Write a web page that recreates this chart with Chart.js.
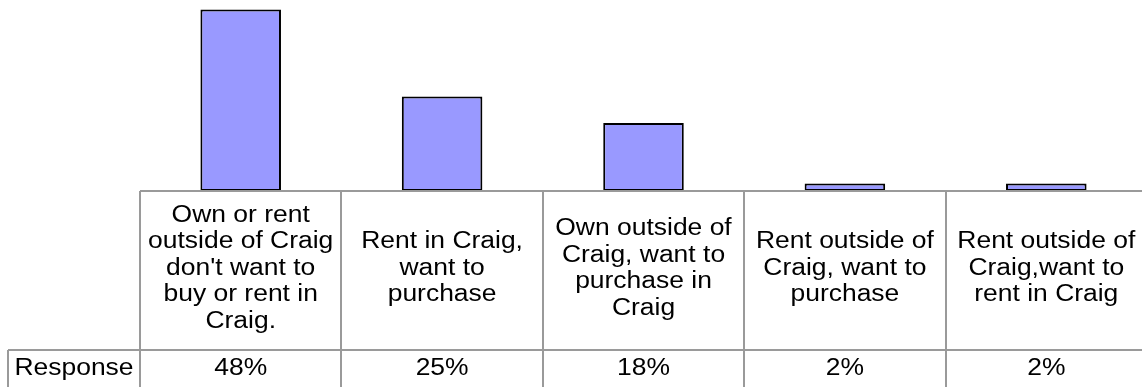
<!DOCTYPE html>
<html>
<head>
<meta charset="utf-8">
<script src="https://cdn.jsdelivr.net/npm/chart.js@4/dist/chart.umd.min.js"></script>
<style>
  html, body { margin: 0; padding: 0; background: #fff; overflow: hidden; }
  #wrap { position: relative; width: 1147px; height: 387px; }
</style>
</head>
<body>
<div id="wrap"><canvas id="responseChart"></canvas></div>
<script>
// categories (one array of lines per column) and response share in percent
const categories = [
  ["Own or rent", "outside of Craig", "don't want to", "buy or rent in", "Craig."],
  ["Rent in Craig,", "want to", "purchase"],
  ["Own outside of", "Craig, want to", "purchase in", "Craig"],
  ["Rent outside of", "Craig, want to", "purchase"],
  ["Rent outside of", "Craig,want to", "rent in Craig"]
];
const responses = [48, 25, 18, 2, 2];
const seriesName = "Response";

const gridColor = "#9a9a9a";
const textFont = "23px 'Liberation Sans', Arial, sans-serif";
const stretch = 1.15;   // the table text is drawn a little wide
const lineGap = 26.6;

function wideText(ctx, str, x, y) {
  ctx.save();
  ctx.translate(x, y);
  ctx.scale(stretch, 1);
  ctx.fillText(str, 0, 0);
  ctx.restore();
}

// data table under the bars: category row + value row
const dataTable = {
  id: "dataTable",
  afterDatasetsDraw(chart) {
    const ctx = chart.ctx;
    const area = chart.chartArea;
    const x = chart.scales.x;
    const top = area.bottom;
    const rowSplit = 350;
    const bottom = chart.height + 2;
    const n = categories.length;
    const colW = (area.right - area.left) / n;

    ctx.save();
    ctx.strokeStyle = gridColor;
    ctx.lineWidth = 2;
    ctx.beginPath();
    ctx.moveTo(area.left, top);
    ctx.lineTo(chart.width, top);
    ctx.moveTo(8, rowSplit);
    ctx.lineTo(chart.width, rowSplit);
    ctx.moveTo(8, rowSplit);
    ctx.lineTo(8, bottom);
    for (let i = 0; i <= n; i++) {
      const lx = Math.round(area.left + i * colW);
      ctx.moveTo(lx, top);
      ctx.lineTo(lx, bottom);
    }
    ctx.stroke();

    ctx.fillStyle = "#000";
    ctx.font = textFont;
    ctx.textAlign = "center";
    ctx.textBaseline = "middle";
    const midHead = (top + rowSplit) / 2 - 2;
    categories.forEach((lines, i) => {
      const cx = x.getPixelForValue(i);
      const y0 = midHead - (lines.length - 1) * lineGap / 2;
      lines.forEach((ln, j) => wideText(ctx, ln, cx, y0 + j * lineGap));
      wideText(ctx, responses[i] + "%", cx, 369);
    });
    wideText(ctx, seriesName, (8 + area.left) / 2, 369);
    ctx.restore();
  }
};

new Chart(document.getElementById("responseChart"), {
  type: "bar",
  data: {
    labels: categories.map(l => l.join(" ")),
    datasets: [{
      label: seriesName,
      data: responses,
      backgroundColor: "#9999ff",
      borderColor: "#000",
      borderWidth: 2,
      borderSkipped: false,
      barPercentage: 0.5,
      categoryPercentage: 0.8
    }]
  },
  options: {
    responsive: true,
    maintainAspectRatio: false,
    animation: false,
    devicePixelRatio: 1,
    layout: { padding: { left: 140, right: 0, top: 2, bottom: 196 } },
    plugins: { legend: { display: false }, tooltip: { enabled: false } },
    scales: {
      x: { display: false },
      y: { display: false, min: 0, max: 50 }
    }
  },
  plugins: [dataTable]
});
</script>
</body>
</html>
